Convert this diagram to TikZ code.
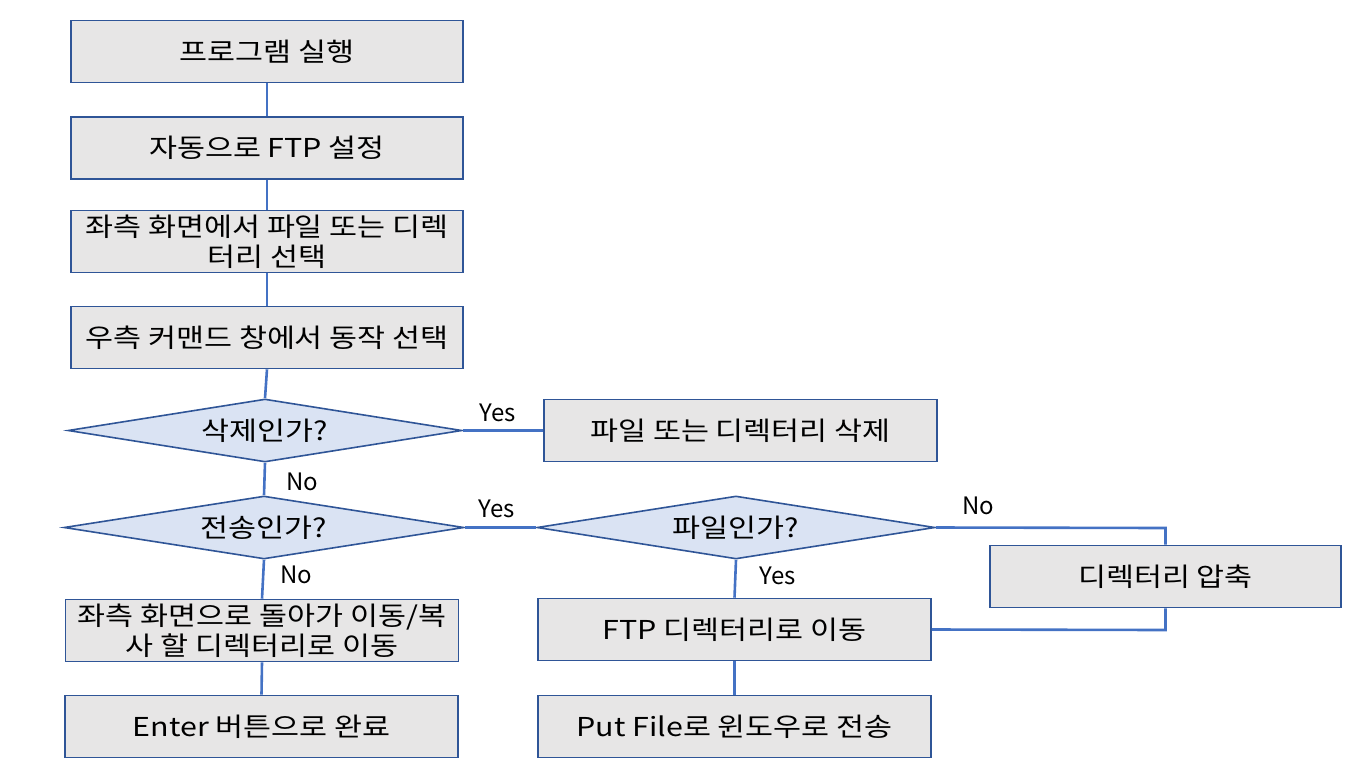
\documentclass[tikz,border=0pt]{standalone}
\usepackage{fontspec}
\setmainfont{Noto Sans CJK KR}[FakeStretch=1.17]
\newfontfamily\lblfont{Noto Sans CJK KR}
\usetikzlibrary{shapes.geometric}
\definecolor{boxfill}{HTML}{E7E6E6}
\definecolor{diafill}{HTML}{DAE3F3}
\definecolor{edge}{HTML}{2F5597}
\definecolor{conn}{HTML}{4472C4}
\tikzset{
  base/.style={draw=edge, line width=1.6pt, font=\fontsize{26}{30}\selectfont, align=center, inner sep=0pt},
  procbox/.style={base, fill=boxfill, rectangle, minimum height=62pt},
  decision/.style={base, fill=diafill, diamond, aspect=6.3, minimum height=63pt},
  link/.style={draw=conn, line width=2.6pt},
  lbl/.style={font=\lblfont\fontsize{24}{26}\selectfont, inner sep=0pt}
}
\begin{document}
\begin{tikzpicture}[x=1pt,y=-1pt]
\useasboundingbox (0,0) rectangle (1361,780);
\node[procbox, minimum width=392pt] (p1) at (267,51.5) {프로그램 실행};
\node[procbox, minimum width=392pt] (p2) at (267,148) {자동으로 FTP 설정};
\node[procbox, minimum width=392pt] (p3) at (267,241.5) {좌측 화면에서 파일 또는 디렉\\터리 선택};
\node[procbox, minimum width=392pt] (p4) at (267,337.5) {우측 커맨드 창에서 동작 선택};
\node[decision, minimum width=394pt] (d1) at (265,430.5) {삭제인가?};
\node[procbox, minimum width=393pt] (del) at (740.5,430.5) {파일 또는 디렉터리 삭제};
\node[decision, minimum width=400pt] (d2) at (264,527.5) {전송인가?};
\node[decision, minimum width=398pt] (d3) at (736,527.5) {파일인가?};
\node[procbox, minimum width=351pt] (zip) at (1165.5,576.5) {디렉터리 압축};
\node[procbox, minimum width=393pt] (back) at (262,630.5) {좌측 화면으로 돌아가 이동/복\\사 할 디렉터리로 이동};
\node[procbox, minimum width=393pt] (ftp) at (734.5,629.5) {FTP 디렉터리로 이동};
\node[procbox, minimum width=393pt] (enter) at (261.5,726.5) {Enter 버튼으로 완료};
\node[procbox, minimum width=393pt] (put) at (734.5,726.5) {Put File로 윈도우로 전송};
\coordinate (c1) at (1165.5,528);
\coordinate (c2) at (1165.5,630);

\draw[link] (p1.south) -- (p2.north);
\draw[link] (p2.south) -- (p3.north);
\draw[link] (p3.south) -- (p4.north);
\draw[link] (p4.south) -- (d1.north);
\draw[link] (d1.east) -- (del.west);
\draw[link] (d1.south) -- (d2.north);
\draw[link] (d2.east) -- (d3.west);
\draw[link] (d2.south) -- (back.north);
\draw[link] (back.south) -- (enter.north);
\draw[link] (d3.south) -- (ftp.north);
\draw[link] (ftp.south) -- (put.north);
\draw[link] (d3.east) -- (c1) -- (zip.north);
\draw[link] (zip.south) -- (c2) -- (ftp.east);

\node[lbl] (y1) at (498,413) {Yes};
\node[lbl] (n1) at (302,482) {No};
\node[lbl] (y2) at (497,509) {Yes};
\node[lbl] (n2) at (296,575) {No};
\node[lbl] (n3) at (978,506) {No};
\node[lbl] (y3) at (778,576) {Yes};
\end{tikzpicture}
\end{document}
